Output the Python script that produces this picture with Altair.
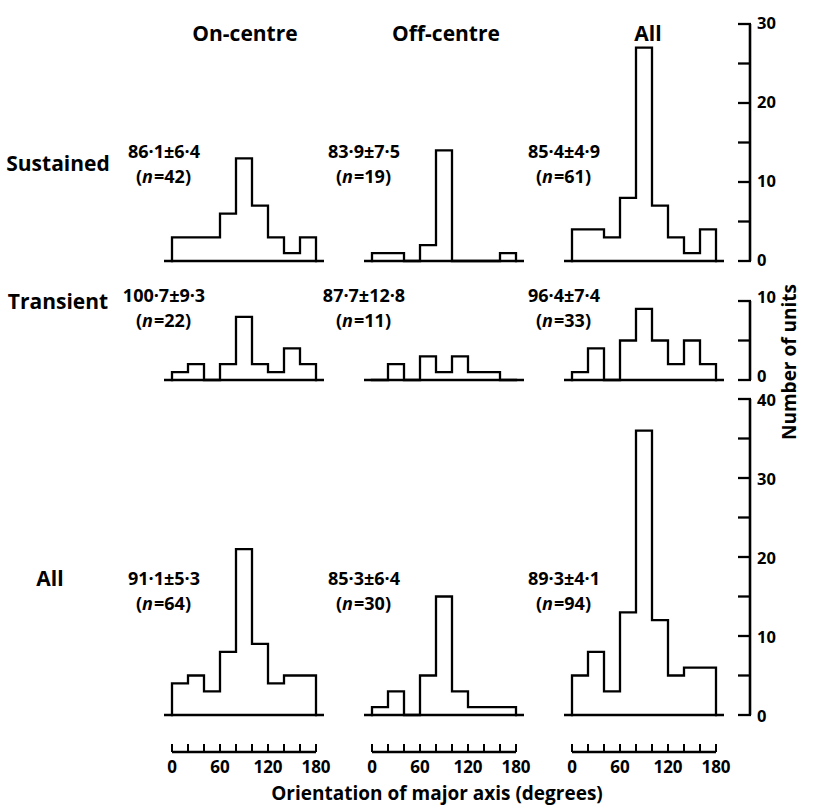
import altair as alt
import pandas as pd

# ---------------- data ----------------
bin_edges = [0, 20, 40, 60, 80, 100, 120, 140, 160, 180]

sustained_on = [3, 3, 3, 6, 13, 7, 3, 1, 3]
sustained_off = [1, 1, 0, 2, 14, 0, 0, 0, 1]
sustained_all = [4, 4, 3, 8, 27, 7, 3, 1, 4]
transient_on = [1, 2, 0, 2, 8, 2, 1, 4, 2]
transient_off = [0, 2, 0, 3, 1, 3, 1, 1, 0]
transient_all = [1, 4, 0, 5, 9, 5, 2, 5, 2]
all_on = [4, 5, 3, 8, 21, 9, 4, 5, 5]
all_off = [1, 3, 0, 5, 15, 3, 1, 1, 1]
all_all = [5, 8, 3, 13, 36, 12, 5, 6, 6]

row_labels = ["Sustained", "Transient", "All"]
col_labels = ["On-centre", "Off-centre", "All"]

stat_text = [["86·1±6·4", "83·9±7·5", "85·4±4·9"],
             ["100·7±9·3", "87·7±12·8", "96·4±7·4"],
             ["91·1±5·3", "85·3±6·4", "89·3±4·1"]]
n_values = [[42, 19, 61], [22, 11, 33], [64, 30, 94]]

y_tick_values = [[0, 5, 10, 15, 20, 25, 30], [0, 5, 10], [0, 5, 10, 15, 20, 25, 30, 35, 40]]
y_label_values = [[0, 10, 20, 30], [0, 10], [0, 10, 20, 30, 40]]
y_axis_top = [30, 10, 40]
y_domain_top = [30, 12.66, 40]

x_tick_values = [0, 20, 40, 60, 80, 100, 120, 140, 160, 180]
x_label_values = [0, 60, 120, 180]

x_title = "Orientation of major axis (degrees)"
y_title = "Number of units"

counts = [[sustained_on, sustained_off, sustained_all],
          [transient_on, transient_off, transient_all],
          [all_on, all_off, all_all]]

# ---------------- layout / style ----------------
FONT = "Open Sans"
FS = 18
W = 160
H = [237, 100, 316]
LW = 2.3
STAT_Y = [(129, 154), (17, 42), (181, 206)]
ROW_LABEL_POS = [(-106, 141), (-106, 23), (-114, 181)]
COL_LABEL_X = [81, 82, 84]
Y_LABEL_DY = [0, -3, 2]

xscale = alt.Scale(domain=[-10, 190], nice=False, zero=False)


def txt(text, x, y, **kw):
    base = dict(font=FONT, fontWeight="bold", fontSize=FS, color="black")
    base.update(kw)
    return alt.Chart(pd.DataFrame({"t": [text]})).mark_text(**base).encode(
        x=alt.value(x), y=alt.value(y), text="t:N")


def panel(r, c):
    yscale = alt.Scale(domain=[0, y_domain_top[r]], nice=False, zero=True)
    cnt = counts[r][c]
    xs = [bin_edges[0]] + bin_edges[:9] + [bin_edges[9], bin_edges[9]]
    ys = [0] + cnt + [cnt[-1], 0]
    df = pd.DataFrame({"x": xs, "y": ys, "i": list(range(len(xs)))})
    layers = []
    line = alt.Chart(df).mark_line(
        interpolate="step-after", color="black", strokeWidth=LW,
        strokeJoin="miter", strokeCap="square").encode(
        x=alt.X("x:Q", scale=xscale, axis=None),
        y=alt.Y("y:Q", scale=yscale, axis=None),
        order="i:Q")
    layers.append(line)
    base_df = pd.DataFrame({"a": [-10], "b": [190], "y": [0]})
    baseline = alt.Chart(base_df).mark_rule(color="black", strokeWidth=2.6).encode(
        x=alt.X("a:Q", scale=xscale, axis=None), x2="b:Q",
        y=alt.Y("y:Q", scale=yscale, axis=None))
    layers.append(baseline)

    # statistics annotation
    y1, y2 = STAT_Y[r]
    layers.append(txt(stat_text[r][c], 0, y1, align="center", baseline="middle"))
    layers.append(txt("(", -22, y2, align="right", baseline="middle"))
    layers.append(txt("n", -22, y2, align="left", baseline="middle", fontStyle="italic"))
    layers.append(txt("=%d)" % n_values[r][c], -10, y2, align="left", baseline="middle"))

    if r == 0:
        layers.append(txt(col_labels[c], COL_LABEL_X[c], 11, align="center",
                          baseline="middle", fontSize=21))
    if c == 0:
        lx, ly = ROW_LABEL_POS[r]
        layers.append(txt(row_labels[r], lx, ly, align="center", baseline="middle",
                          fontSize=21))
    if r == 0 and c == 0:
        # invisible anchor fixing the page origin
        layers.append(alt.Chart(pd.DataFrame({"z": [0]})).mark_rule(
            strokeOpacity=0, strokeWidth=0.01).encode(
            x=alt.value(-164), x2=alt.value(-163), y=alt.value(-24)))

    if c == 2:
        ax_df = pd.DataFrame({"a": [0], "b": [y_axis_top[r]]})
        layers.append(alt.Chart(ax_df).mark_rule(color="black", strokeWidth=2.6).encode(
            x=alt.value(186), y=alt.Y("a:Q", scale=yscale, axis=None), y2="b:Q"))
        tk_df = pd.DataFrame({"t": y_tick_values[r]})
        layers.append(alt.Chart(tk_df).mark_rule(color="black", strokeWidth=2.3).encode(
            x=alt.value(174), x2=alt.value(187),
            y=alt.Y("t:Q", scale=yscale, axis=None)))
        lb_df = pd.DataFrame({"t": y_label_values[r]})
        layers.append(alt.Chart(lb_df).mark_text(
            font=FONT, fontWeight="bold", fontSize=16.5, align="left",
            baseline="middle", color="black", dy=Y_LABEL_DY[r]).encode(
            x=alt.value(193), y=alt.Y("t:Q", scale=yscale, axis=None),
            text="t:Q"))
        if r == 1:
            layers.append(txt(y_title, 226, 82, align="center", baseline="middle",
                              angle=270, fontSize=19))

    if r == 2:
        h = H[r]
        xl_df = pd.DataFrame({"a": [0], "b": [180]})
        layers.append(alt.Chart(xl_df).mark_rule(color="black", strokeWidth=2.3).encode(
            x=alt.X("a:Q", scale=xscale, axis=None), x2="b:Q", y=alt.value(h + 37)))
        xt_df = pd.DataFrame({"t": x_tick_values})
        layers.append(alt.Chart(xt_df).mark_rule(color="black", strokeWidth=2).encode(
            x=alt.X("t:Q", scale=xscale, axis=None),
            y=alt.value(h + 29), y2=alt.value(h + 37)))
        xb_df = pd.DataFrame({"t": x_label_values})
        layers.append(alt.Chart(xb_df).mark_text(
            font=FONT, fontWeight="bold", fontSize=17, align="center",
            baseline="middle", color="black").encode(
            x=alt.X("t:Q", scale=xscale, axis=None), y=alt.value(h + 53),
            text="t:Q"))
        if c == 1:
            layers.append(txt(x_title, 73, 395, align="center", baseline="middle",
                              fontSize=19))

    return alt.layer(*layers).properties(width=W, height=H[r])


panels = [panel(r, c) for r in range(3) for c in range(3)]

chart = alt.concat(
    *panels, columns=3, spacing={"row": 19, "column": 40}, bounds="flush"
).properties(
    padding={"left": 0, "top": 0, "right": 5, "bottom": 3},
    background="white",
).configure_view(stroke=None)

chart.save("out.html", embed_options={"renderer": "svg", "actions": False})
